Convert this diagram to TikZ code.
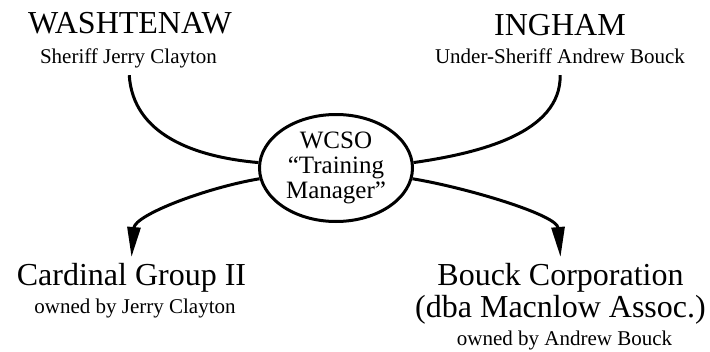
\documentclass[tikz,border=0pt]{standalone}
\usepackage{fontspec}
\setmainfont{Liberation Serif}
\usetikzlibrary{arrows.meta,shapes.geometric}
\tikzset{
    >={Triangle[length=30pt,width=13pt]},
    county/.style={
           inner sep=0pt,
           anchor=base,
           font=\fontsize{32}{35}\selectfont},
    officer/.style={
           inner sep=0pt,
           anchor=base,
           text depth=0pt,
           font=\fontsize{21}{24}\selectfont},
    firm/.style={
           inner xsep=0pt, inner ysep=6pt,
           anchor=north,
           align=center,
           font=\fontsize{32}{32}\selectfont},
    office/.style={
           ellipse,
           draw=black, line width=3pt,
           minimum width=153pt, minimum height=107pt,
           inner sep=0pt,
           align=center,
           font=\fontsize{25}{25}\selectfont},
    tie/.style={
           line width=3pt,
           shorten <=12pt},
    flow/.style={
           ->,
           line width=3pt}
}

\begin{document}
\begin{tikzpicture}[x=1pt, y=-1pt]
        \useasboundingbox (0,0) rectangle (710,351);

        % counties and their officers
        \node[county] (wash) at (130,33.5) {WASHTENAW};
        \node[officer] (washsub) at (128.5,63) {Sheriff Jerry Clayton};
        \node[county] (ing) at (560,35) {INGHAM};
        \node[officer] (ingsub) at (560,63) {Under-Sheriff Andrew Bouck};

        \node[office] (wcso) at (336,168) {WCSO\\“Training\\Manager”};

        % companies
        \node[firm] (cardinal) at (131.5,257) {Cardinal Group II};
        \node[officer] (cardsub) at (135,313) {owned by Jerry Clayton};
        \node[firm] (bouck) at (560.5,257) {Bouck Corporation\\(dba Macnlow Assoc.)};
        \node[officer] (boucksub) at (564.5,345) {owned by Andrew Bouck};

        \draw[tie] (washsub.south) .. controls (133,135) and (195,157) .. (wcso.176);
        \draw[tie] (ingsub.south) .. controls (561,133) and (480,153) .. (wcso.4);
        \draw[flow] (wcso.188) .. controls (205,188) and (135,215) .. (cardinal.north);
        \draw[flow] (wcso.352) .. controls (468,188) and (557,215) .. (bouck.north);
    \end{tikzpicture}
\end{document}
